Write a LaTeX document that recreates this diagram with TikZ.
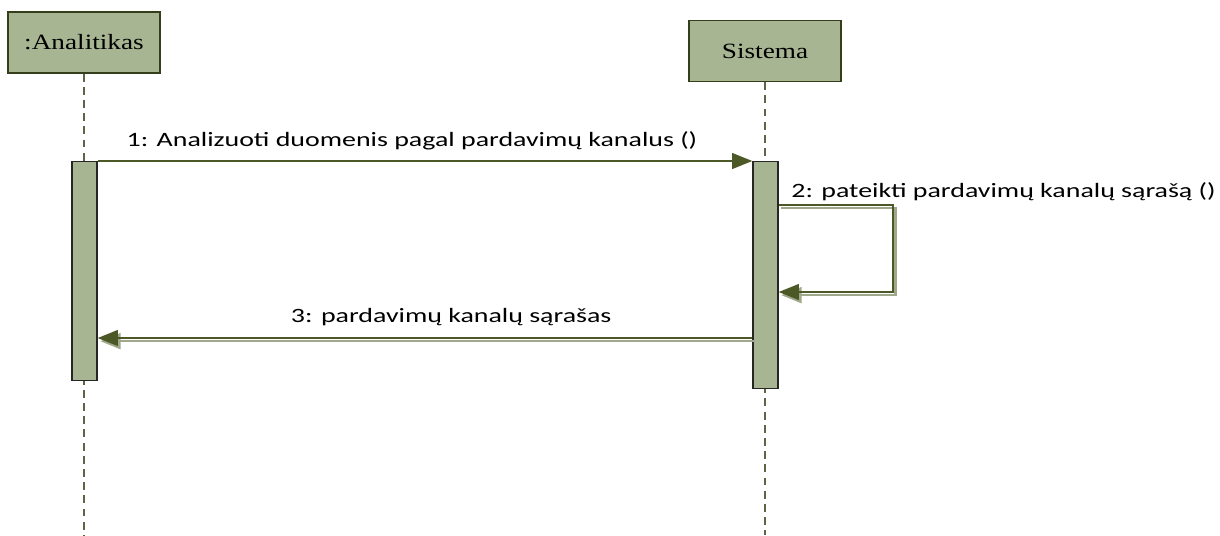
\documentclass[tikz,border=0pt]{standalone}
\usepackage{fontspec}
\setmainfont{Liberation Serif}[FakeStretch=1.25]
\newfontfamily\msgfont{Carlito}[FakeStretch=1.37]
\usetikzlibrary{arrows.meta}
\definecolor{boxgreen}{RGB}{167,181,146}
\definecolor{linegreen}{RGB}{76,88,38}
\definecolor{shadegreen}{RGB}{160,168,140}
\definecolor{lifegray}{RGB}{95,100,70}
\begin{document}
\begin{tikzpicture}[x=0.02cm,y=-0.02cm,
		obj/.style={draw=linegreen!70!black,line width=0.8pt,fill=boxgreen,minimum width=3.04cm,minimum height=1.22cm,font=\fontsize{12.4}{14}\selectfont},
		act/.style={draw=black!85,line width=0.8pt,fill=boxgreen,minimum width=0.5cm,inner sep=0pt,anchor=north},
		life/.style={draw=lifegray,line width=0.8pt,dash pattern=on 4.5pt off 3pt},
		msg/.style={draw=linegreen,line width=1pt,-{Triangle[length=11.5pt,width=9pt]}},
		shade/.style={draw=shadegreen,line width=1.4pt,-{Triangle[length=11.5pt,width=9pt]},transform canvas={xshift=1.5pt,yshift=-1.8pt}},
		lbl/.style={font=\msgfont\fontsize{11.6}{14}\selectfont,inner sep=0pt}]
				\useasboundingbox (0,0) rectangle (1220,535);
				\node[obj] (analitikas) at (84,42.5) {:Analitikas};
				\node[obj] (sistema) at (765,51) {Sistema};
				\path (84,535) coordinate (analitikasEnd)
				(765,535) coordinate (sistemaEnd)
				;
				\draw[life] (analitikas.south)--(analitikasEnd);
				\draw[life] (sistema.south)--(sistemaEnd);
				\node[act,minimum height=4.38cm] (actA) at (84.5,161) {};
				\node[act,minimum height=4.54cm] (actS) at (765.5,161) {};
				\path (actS.north east) ++(0,44) coordinate (loopStart) ++(114,0) coordinate (loopTop) ++(0,87) coordinate (loopBottom);
				\path (actS.north west) ++(0,177) coordinate (retStart);
				\path (actA.north east) ++(0,177) coordinate (retEnd);
				\draw[msg] (actA.north east)--(actS.north west)
				node[lbl,midway,anchor=base,xshift=-0.26cm,yshift=8.5pt]{1: Analizuoti duomenis pagal pardavimų kanalus ()};
				\draw[shade] (loopStart)--(loopTop)--(loopBottom)--(loopStart|-loopBottom);
				\draw[msg] (loopStart)--(loopTop)--(loopBottom)--(loopStart|-loopBottom);
				\node[lbl,anchor=base west] at (791,197) {2: pateikti pardavimų kanalų sąrašą ()};
				\draw[shade] (retStart)--(retEnd);
				\draw[msg] (retStart)--(retEnd)
				node[lbl,pos=0.46,anchor=base,yshift=9pt]{3: pardavimų kanalų sąrašas};
		\end{tikzpicture}
\end{document}
